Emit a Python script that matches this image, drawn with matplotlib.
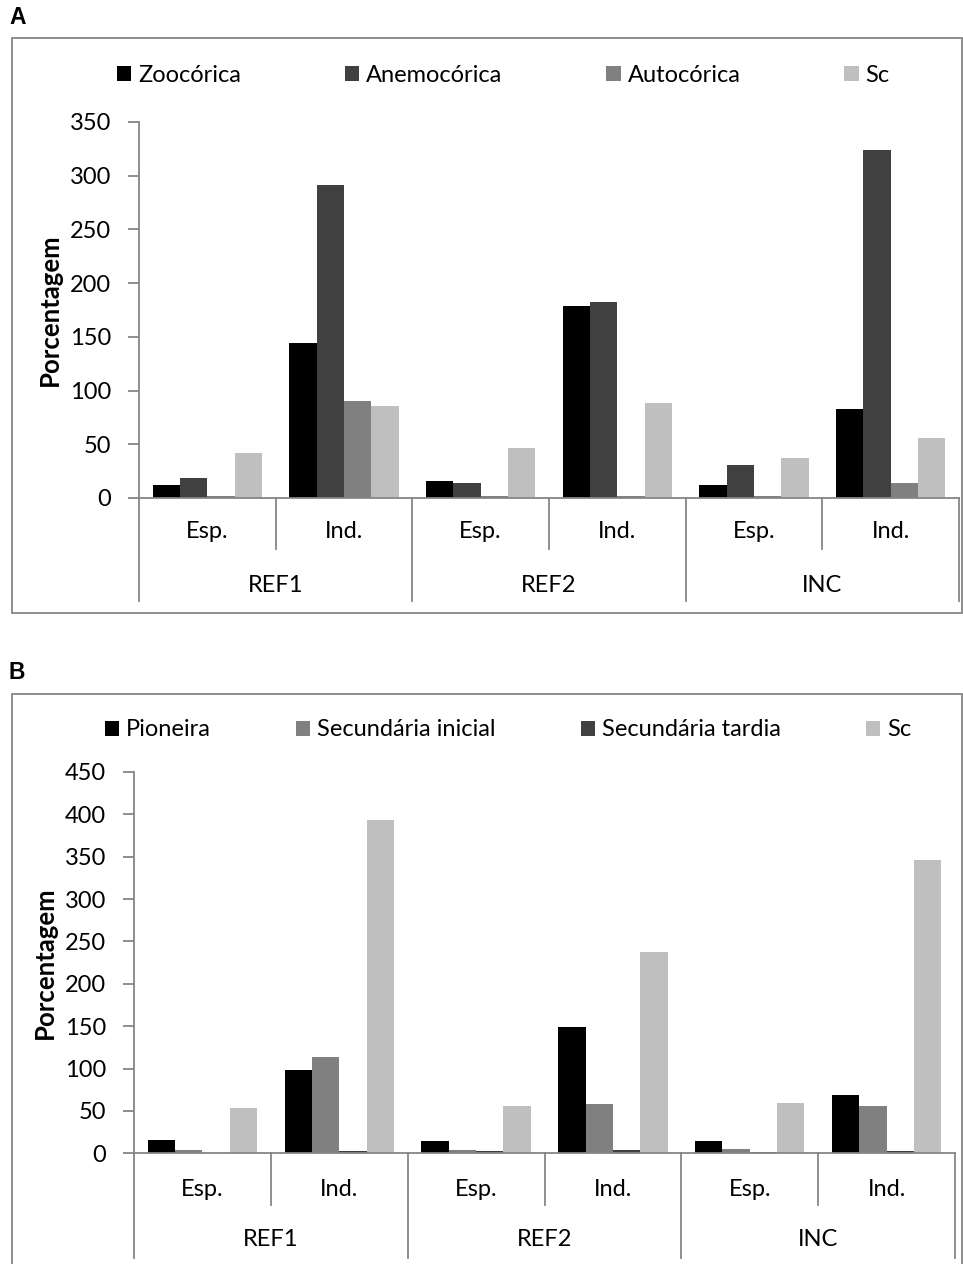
import matplotlib.pyplot as plt
from matplotlib.patches import Rectangle
import numpy as np

plt.rcParams['font.family'] = ['Lato', 'DejaVu Sans']

# sites and sampling units
sites = ["REF1", "REF2", "INC"]
units = ["Esp.", "Ind."]

# A: dispersal syndromes (Esp. / Ind. per site)
disp_labels = ["Zoocórica", "Anemocórica", "Autocórica", "Sc"]
zoocorica = [12, 144, 16, 179, 12, 83]
anemocorica = [19, 291, 14, 182, 31, 324]
autocorica = [1.5, 90, 1.5, 1.5, 1.5, 14]
sc_disp = [42, 86, 47, 88, 37, 56]
disp_colors = ["#000000", "#404040", "#808080", "#BFBFBF"]

# B: successional groups
succ_labels = ["Pioneira", "Secundária inicial", "Secundária tardia", "Sc"]
pioneira = [16, 98, 15, 149, 15, 69]
sec_inicial = [4, 114, 4, 58, 5, 56]
sec_tardia = [0, 2.4, 2.4, 3.5, 1.6, 2.4]
sc_succ = [54, 393, 56, 237, 59, 346]
succ_colors = ["#000000", "#808080", "#404040", "#BFBFBF"]

W, H = 963, 1264
AXC = "#868686"
FS = 17

fig = plt.figure(figsize=(W / 100, H / 100), dpi=100)


def fx(px):
    return px / W


def fy(py):
    return 1 - py / H


def panel(letter, box, ax_px, ymax, series, labels, colors, leg, row_y, div_y):
    left, top, right, bottom = ax_px
    # outer frame and panel letter
    bx0, by0, bx1, by1 = box
    fig.patches.append(Rectangle((fx(bx0), fy(by1)), fx(bx1 - bx0), (by1 - by0) / H,
                                 transform=fig.transFigure, fill=False,
                                 edgecolor=AXC, linewidth=1.3))
    fig.text(fx(9), fy(by0 - 21), letter, fontsize=16.5, fontweight="bold",
             family="Liberation Sans", va="center", ha="left")

    ax = fig.add_axes([fx(left), fy(bottom), fx(right - left), (bottom - top) / H])
    n = len(series[0])
    x = np.arange(n) + 0.5
    w = 0.2
    handles = []
    for k, (vals, c) in enumerate(zip(series, colors)):
        b = ax.bar(x + (k - 1.5) * w, vals, width=w, color=c, edgecolor="none",
                   label=labels[k])
        handles.append(b)
    ax.set_xlim(0, n)
    ax.set_ylim(0, ymax)
    ax.set_yticks(np.arange(0, ymax + 1, 50))
    ax.set_xticks([])
    for s in ["top", "right"]:
        ax.spines[s].set_visible(False)
    for s in ["left", "bottom"]:
        ax.spines[s].set_color(AXC)
        ax.spines[s].set_linewidth(1.3)
    ax.tick_params(axis="y", colors=AXC, labelcolor="black", labelsize=FS,
                   length=8, width=1.3, pad=12)
    ax.set_ylabel("Porcentagem", fontsize=18.5, fontweight="bold")
    ax.yaxis.set_label_coords(-77 / (right - left), 0.5)

    # category rows under the axis
    h = bottom - top
    tr = ax.get_xaxis_transform()
    y_small = (bottom - div_y[0]) / h
    y_big = (bottom - div_y[1]) / h
    for i in range(n + 1):
        yb = y_big if i % 2 == 0 else y_small
        ax.plot([i, i], [0, yb], transform=tr, color=AXC, lw=1.3, clip_on=False)
    for i in range(n):
        ax.text(i + 0.5, (bottom - row_y[0]) / h, units[i % 2], transform=tr,
                ha="center", va="center", fontsize=FS)
    for j, s in enumerate(sites):
        ax.text(2 * j + 1, (bottom - row_y[1]) / h, s, transform=tr,
                ha="center", va="center", fontsize=FS)

    lx, ly, spacing = leg
    fig.legend(handles=handles, loc="center left", bbox_to_anchor=(fx(lx), fy(ly)),
               ncol=4, frameon=False, fontsize=FS, borderpad=0, borderaxespad=0,
               handlelength=0.6, handleheight=0.6, handletextpad=0.3,
               columnspacing=spacing)
    return ax


panel("A", (12, 38, 962, 613), (139, 122, 959, 498), 350,
      [zoocorica, anemocorica, autocorica, sc_disp], disp_labels, disp_colors,
      (117, 75, 4.4), (532, 585), (549, 601))

panel("B", (12, 694, 962, 1290), (134, 772, 955, 1153.3), 450,
      [pioneira, sec_inicial, sec_tardia, sc_succ], succ_labels, succ_colors,
      (105, 730, 3.6), (1189, 1240), (1205, 1258))

fig.savefig("out.png", dpi=100)
